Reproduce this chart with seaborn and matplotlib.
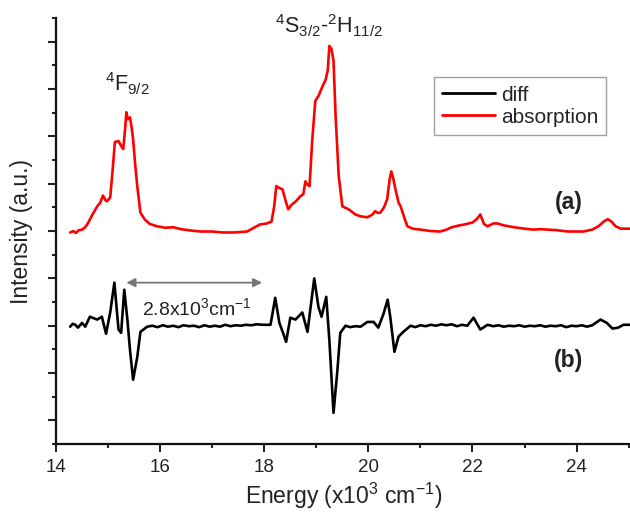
import numpy as np
import pandas as pd
import matplotlib
matplotlib.use("Agg")
import matplotlib.pyplot as plt
from matplotlib.ticker import MultipleLocator, NullFormatter
import seaborn as sns

# ---- data ----
abs_x = [14.27, 14.33, 14.38, 14.44, 14.5, 14.56, 14.62, 14.7, 14.79, 14.85, 14.9, 14.95, 14.98, 15.04, 15.08,
         15.13, 15.2, 15.26, 15.29, 15.33, 15.35, 15.38, 15.42, 15.45, 15.48, 15.52, 15.56, 15.62, 15.7, 15.8,
         15.94, 16.1, 16.25, 16.4, 16.6, 16.77, 17.0, 17.2, 17.4, 17.55, 17.67, 17.8, 17.92, 18.05, 18.14,
         18.19, 18.23, 18.27, 18.35, 18.42, 18.46, 18.52, 18.6, 18.69, 18.75, 18.79, 18.83, 18.87, 18.92, 18.98,
         19.04, 19.12, 19.18, 19.22, 19.25, 19.29, 19.33, 19.37, 19.43, 19.5, 19.62, 19.75, 19.85, 19.98, 20.08,
         20.13, 20.18, 20.23, 20.3, 20.36, 20.41, 20.44, 20.48, 20.52, 20.58, 20.62, 20.7, 20.75, 20.85, 21.0,
         21.2, 21.38, 21.5, 21.6, 21.75, 21.85, 22.0, 22.08, 22.15, 22.22, 22.29, 22.4, 22.48, 22.6, 22.8,
         23.0, 23.17, 23.3, 23.44, 23.6, 23.83, 24.0, 24.13, 24.3, 24.42, 24.52, 24.6, 24.67, 24.75, 24.85,
         24.95, 25.04]
abs_y = [3.97, 4.0, 3.96, 4.02, 4.03, 4.08, 4.18, 4.35, 4.52, 4.6, 4.75, 4.65, 4.63, 4.71, 5.2,
         5.88, 5.9, 5.78, 5.73, 6.2, 6.51, 6.36, 6.4, 6.2, 5.94, 5.4, 4.95, 4.39, 4.25, 4.15,
         4.1, 4.07, 4.08, 4.04, 4.01, 3.99, 3.99, 3.97, 3.97, 3.98, 3.99, 4.07, 4.14, 4.16, 4.2,
         4.52, 4.95, 4.92, 4.88, 4.6, 4.46, 4.55, 4.62, 4.73, 4.78, 5.05, 4.98, 4.95, 5.9, 6.75,
         6.85, 7.06, 7.2, 7.4, 7.91, 7.85, 7.6, 6.43, 5.16, 4.52, 4.46, 4.35, 4.31, 4.29, 4.35,
         4.42, 4.38, 4.39, 4.5, 4.67, 5.1, 5.26, 5.1, 4.88, 4.6, 4.52, 4.25, 4.1, 4.05, 4.03,
         4.0, 3.99, 4.03, 4.08, 4.12, 4.14, 4.18, 4.25, 4.35, 4.15, 4.1, 4.16, 4.16, 4.12, 4.08,
         4.05, 4.03, 4.04, 4.03, 4.02, 3.99, 3.99, 3.99, 4.03, 4.1, 4.2, 4.25, 4.2, 4.1, 4.05,
         4.05, 4.05]

diff_x = [14.27, 14.32, 14.37, 14.42, 14.5, 14.56, 14.65, 14.72, 14.79, 14.88, 14.96, 15.04, 15.12, 15.2, 15.25,
          15.31, 15.37, 15.42, 15.48, 15.56, 15.62, 15.75, 15.85, 15.95, 16.05, 16.15, 16.25, 16.35, 16.45, 16.55,
          16.65, 16.75, 16.85, 16.95, 17.05, 17.15, 17.25, 17.35, 17.45, 17.55, 17.65, 17.75, 17.85, 17.98, 18.12,
          18.21, 18.29, 18.36, 18.42, 18.5, 18.6, 18.73, 18.83, 18.96, 19.04, 19.1, 19.19, 19.25, 19.33, 19.4,
          19.46, 19.56, 19.65, 19.75, 19.85, 19.98, 20.1, 20.19, 20.29, 20.37, 20.42, 20.5, 20.58, 20.67, 20.81,
          20.9, 21.0, 21.1, 21.2, 21.3, 21.4, 21.5, 21.6, 21.7, 21.8, 21.9, 22.02, 22.15, 22.29, 22.4,
          22.5, 22.6, 22.7, 22.8, 22.9, 23.0, 23.1, 23.2, 23.3, 23.4, 23.5, 23.6, 23.7, 23.8, 23.9,
          24.0, 24.1, 24.2, 24.3, 24.46, 24.58, 24.69, 24.8, 24.9, 25.04]
diff_y = [1.98, 2.04, 2.02, 1.96, 2.06, 1.98, 2.19, 2.16, 2.13, 2.19, 1.83, 2.28, 2.91, 1.92, 1.85,
          2.76, 2.13, 1.49, 0.86, 1.34, 1.87, 1.98, 2.0, 1.97, 2.01, 1.98, 2.0, 1.97, 2.01, 1.99,
          2.0, 1.97, 2.01, 1.98, 2.0, 1.98, 2.02, 1.99, 2.01, 2.0, 2.02, 2.01, 2.03, 2.02, 2.02,
          2.59, 2.06, 1.85, 1.66, 2.17, 2.13, 2.28, 1.87, 3.0, 2.4, 2.19, 2.61, 1.7, 0.16, 1.0,
          1.85, 2.0, 1.97, 1.99, 1.98, 2.08, 2.08, 1.96, 2.25, 2.55, 2.19, 1.45, 1.77, 1.87, 2.0,
          1.97, 2.01, 1.99, 2.02, 2.0, 2.03, 2.01, 2.03, 1.99, 2.02, 2.0, 2.17, 1.92, 2.02, 1.99,
          2.01, 1.98, 2.0, 1.99, 2.01, 1.98, 2.0, 1.99, 2.01, 1.98, 2.0, 1.99, 2.01, 1.97, 2.0,
          1.99, 2.01, 1.98, 2.01, 2.13, 2.06, 1.94, 1.96, 2.02, 2.02]

series_names = ["diff", "absorption"]
series_colors = ["black", "red"]
x_ticks = [14, 16, 18, 20, 22, 24]

df = pd.concat([
    pd.DataFrame({"Energy": diff_x, "Intensity": diff_y, "series": series_names[0]}),
    pd.DataFrame({"Energy": abs_x, "Intensity": abs_y, "series": series_names[1]}),
], ignore_index=True)

sns.set_style("ticks")
plt.rcParams["font.family"] = ["Liberation Sans", "DejaVu Sans"]
plt.rcParams["mathtext.fontset"] = "custom"
plt.rcParams["mathtext.rm"] = "Liberation Sans"
plt.rcParams["mathtext.it"] = "Liberation Sans:italic"
plt.rcParams["mathtext.bf"] = "Liberation Sans:bold"

fig = plt.figure(figsize=(6.3, 5.14), dpi=100)
ax = fig.add_axes([0.089, 0.136, 0.913, 0.829])

sns.lineplot(data=df, x="Energy", y="Intensity", hue="series", hue_order=series_names,
             palette=dict(zip(series_names, series_colors)), sort=False, estimator=None,
             linewidth=1.9, ax=ax)

ax.set_xlim(14, 25.05)
ax.set_ylim(-0.5, 8.5)
ax.set_xticks(x_ticks)
ax.xaxis.set_minor_locator(MultipleLocator(1))
ax.yaxis.set_major_locator(MultipleLocator(1))
ax.yaxis.set_minor_locator(MultipleLocator(0.5))
ax.yaxis.set_major_formatter(NullFormatter())
ax.tick_params(axis="both", which="major", direction="out", length=5.5, width=1.5, labelsize=13.5,
               colors="#222222", pad=5)
ax.tick_params(axis="both", which="minor", direction="out", length=3.2, width=1.5)
for s in ["top", "right"]:
    ax.spines[s].set_visible(False)
for s in ["left", "bottom"]:
    ax.spines[s].set_linewidth(1.6)
    ax.spines[s].set_color("#111111")

ax.set_xlabel(r"Energy (x10$^{3}$ cm$^{-1}$)", fontsize=16.5, labelpad=4, color="#222222")
ax.set_ylabel("Intensity (a.u.)", fontsize=16.5, labelpad=6, color="#222222")

leg = ax.legend(loc="upper left", bbox_to_anchor=(0.657, 0.861), fontsize=15, handlelength=2.55,
                frameon=True, fancybox=False, edgecolor="#888888", borderpad=0.4, labelspacing=0.15,
                handletextpad=0.25, borderaxespad=0)
leg.get_frame().set_linewidth(1.0)
for line in leg.get_lines():
    line.set_linewidth(2.0)

ax.text(14.94, 6.94, r"$\mathregular{^{4}F_{9/2}}$", fontsize=15.5, ha="left", va="baseline", color="#222222")
ax.text(18.21, 8.17, r"$\mathregular{^{4}S_{3/2}}$-$\mathregular{^{2}H_{11/2}}$", fontsize=15.5, ha="left",
        va="baseline", color="#222222", clip_on=False)
ax.text(23.85, 4.6, "(a)", fontsize=16.5, fontweight="bold", ha="center", va="center", color="#222222")
ax.text(23.85, 1.26, "(b)", fontsize=16.5, fontweight="bold", ha="center", va="center", color="#222222")

ax.annotate("", xy=(15.35, 2.91), xytext=(17.96, 2.91),
            arrowprops=dict(arrowstyle="<|-|>", color="#777777", lw=1.3, mutation_scale=13,
                            shrinkA=0, shrinkB=0))
ax.text(16.71, 2.23, r"2.8x10$^{3}$cm$^{-1}$", fontsize=14, ha="center", va="baseline", color="#222222")

fig.savefig("out.png", dpi=100)
